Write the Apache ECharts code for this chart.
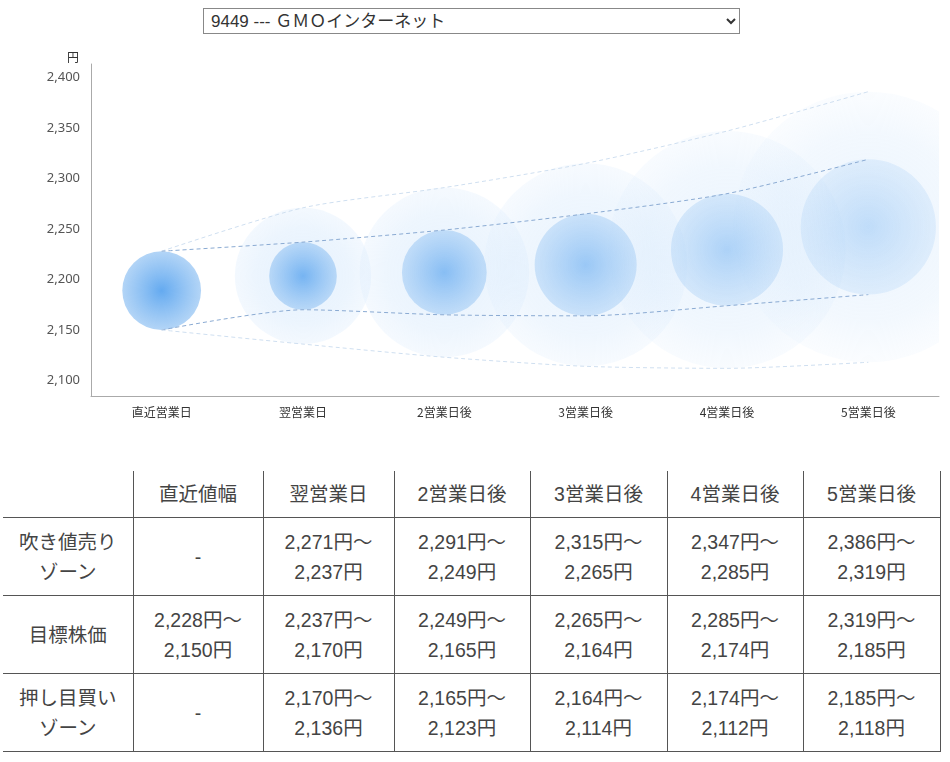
<!DOCTYPE html>
<html>
<head>
<meta charset="utf-8">
<script src="https://cdn.jsdelivr.net/npm/echarts@6/dist/echarts.min.js"></script>
<style>
body { margin: 0; background: #fff; font-family: "Noto Sans CJK JP", "Noto Sans", sans-serif; color: #444; }
#stock { position: absolute; left: 203px; top: 8px; width: 537px; height: 26px; font-size: 17px; font-family: "Liberation Sans", "Noto Sans CJK JP", sans-serif; color: #333; border: 1px solid #888; background: #fff; padding: 0 3px; }
#chart { position: absolute; left: 0; top: 0; width: 950px; height: 440px; }
#zone { position: absolute; left: 3px; top: 471px; width: 937px; border-collapse: collapse; table-layout: fixed; font-size: 19.5px; font-family: "Liberation Sans", "Noto Sans CJK JP", sans-serif; }
#zone td, #zone th { border: 1px solid #555; text-align: center; font-weight: normal; line-height: 30px; padding: 0; }
#zone tr.head th { height: 46px; border-top: none; }
#zone tr.head th:first-child { border-left: none; }
#zone tr.row td { height: 77px; }
#zone tr.row td:first-child { border-left: none; }
</style>
</head>
<body>
<select id="stock"><option>9449 --- ＧＭＯインターネット</option></select>
<div id="chart"></div>
<table id="zone"></table>
<script>
//横軸のカテゴリ
var days = ['直近営業日', '翌営業日', '2営業日後', '3営業日後', '4営業日後', '5営業日後'];
var tableHead = ['直近値幅', '翌営業日', '2営業日後', '3営業日後', '4営業日後', '5営業日後'];
var rowNames = [['吹き値売り', 'ゾーン'], ['目標株価'], ['押し目買い', 'ゾーン']];
//吹き値売りゾーン（上限・下限）、直近は無し
var sellHigh = [null, 2271, 2291, 2315, 2347, 2386];
var sellLow = [null, 2237, 2249, 2265, 2285, 2319];
//目標株価（上限・下限）
var targetHigh = [2228, 2237, 2249, 2265, 2285, 2319];
var targetLow = [2150, 2170, 2165, 2164, 2174, 2185];
//押し目買いゾーン（上限・下限）
var buyHigh = [null, 2170, 2165, 2164, 2174, 2185];
var buyLow = [null, 2136, 2123, 2114, 2112, 2118];
//線の値（直近は目標株価を起点にする）
var outerTop = [2228, 2271, 2291, 2315, 2347, 2386];
var outerBottom = [2150, 2136, 2123, 2114, 2112, 2118];
var yTicks = [2100, 2150, 2200, 2250, 2300, 2350, 2400];
var colWidths = [130, 130, 131, 136, 137, 136, 137];

function fmt(v) {
	return v.toLocaleString('en-US');
}

//表を作る
var html = '<colgroup>';
for (var i = 0; i < colWidths.length; i++) {
	html += '<col style="width:' + colWidths[i] + 'px">';
}
html += '</colgroup><tr class="head"><th></th>';
for (var i = 0; i < tableHead.length; i++) {
	html += '<th>' + tableHead[i] + '</th>';
}
html += '</tr>';
var rows = [[sellHigh, sellLow], [targetHigh, targetLow], [buyHigh, buyLow]];
for (var r = 0; r < rows.length; r++) {
	html += '<tr class="row"><td>' + rowNames[r].join('<br>') + '</td>';
	for (var i = 0; i < days.length; i++) {
		var hi = rows[r][0][i], lo = rows[r][1][i];
		if (hi == null) {
			html += '<td>-</td>';
		} else {
			html += '<td>' + fmt(hi) + '円～<br>' + fmt(lo) + '円</td>';
		}
	}
	html += '</tr>';
}
document.getElementById('zone').innerHTML = html;

//円の範囲
var allValues = outerTop.concat(outerBottom);
var vMax = Math.max.apply(null, allValues);
var vMin = Math.min.apply(null, allValues);
var pad = (vMax - vMin) * 0.1;

var outerData = [];
var innerData = [];
for (var i = 0; i < days.length; i++) {
	if (sellHigh[i] != null) outerData.push([i, sellHigh[i], buyLow[i]]);
	innerData.push([i, targetHigh[i], targetLow[i]]);
}

function circleItem(kind) {
	return function (params, api) {
		var idx = api.value(0);
		var top = api.coord([idx, api.value(1)]);
		var bottom = api.coord([idx, api.value(2)]);
		var r = (bottom[1] - top[1]) / 2;
		var fade = idx / 5;
		var stops;
		if (kind == 'outer') {
			stops = [
				{ offset: 0, color: 'rgba(205,228,252,' + (0.55 - fade * 0.15) + ')' },
				{ offset: 0.7, color: 'rgba(214,233,252,' + (0.5 - fade * 0.2) + ')' },
				{ offset: 1, color: 'rgba(222,237,253,' + (0.42 - fade * 0.27) + ')' }
			];
		} else {
			stops = [
				{ offset: 0, color: 'rgba(100,170,240,' + (1 - fade * 0.68) + ')' },
				{ offset: 1, color: 'rgba(165,205,245,' + (0.85 - fade * 0.6) + ')' }
			];
		}
		return {
			type: 'circle',
			shape: { cx: top[0], cy: top[1] + r, r: r },
			style: { fill: new echarts.graphic.RadialGradient(0.5, 0.5, 0.5, stops) }
		};
	};
}

function dashLine(name, data, color) {
	return {
		name: name,
		type: 'line',
		data: data,
		symbol: 'none',
		smooth: 0.25,
		z: 5,
		lineStyle: { color: color, width: 1, type: [4, 3] },
		silent: true
	};
}

var mychart = echarts.init(document.getElementById('chart'));
var option = {
	animation: false,
	grid: { left: 91, right: 11, top: 64, bottom: 44 },
	xAxis: {
		type: 'category',
		data: days,
		boundaryGap: true,
		axisLine: { lineStyle: { color: '#aaa' } },
		axisTick: { show: false },
		axisLabel: { color: '#333', fontSize: 12, margin: 10, fontFamily: 'Noto Sans CJK JP' }
	},
	yAxis: {
		type: 'value',
		min: vMin - pad,
		max: vMax + pad,
		splitNumber: 6,
		name: '円',
		nameLocation: 'end',
		nameGap: 1,
		nameTextStyle: { color: '#333', fontSize: 12, align: 'right', padding: [0, 12, 0, 0], fontFamily: 'Noto Sans CJK JP' },
		splitLine: { show: false },
		axisLine: { show: true, lineStyle: { color: '#aaa' } },
		axisTick: { show: false },
		axisLabel: {
			color: '#555',
			fontSize: 13,
			margin: 11,
			fontFamily: 'Noto Sans',
			showMinLabel: false,
			showMaxLabel: false,
			formatter: function (v) {
				return yTicks.indexOf(Math.round(v)) >= 0 && Math.abs(v - Math.round(v)) < 1e-6 ? fmt(Math.round(v)) : '';
			}
		}
	},
	series: [
		{ type: 'custom', name: 'outer', data: outerData, renderItem: circleItem('outer'), clip: true, z: 2, silent: true },
		{ type: 'custom', name: 'inner', data: innerData, renderItem: circleItem('inner'), clip: true, z: 3, silent: true },
		dashLine('outerTop', outerTop, '#cfdff0'),
		dashLine('innerTop', targetHigh, '#8aaad2'),
		dashLine('innerBottom', targetLow, '#8aaad2'),
		dashLine('outerBottom', outerBottom, '#cfdff0')
	]
};
mychart.setOption(option);
</script>
</body>
</html>
